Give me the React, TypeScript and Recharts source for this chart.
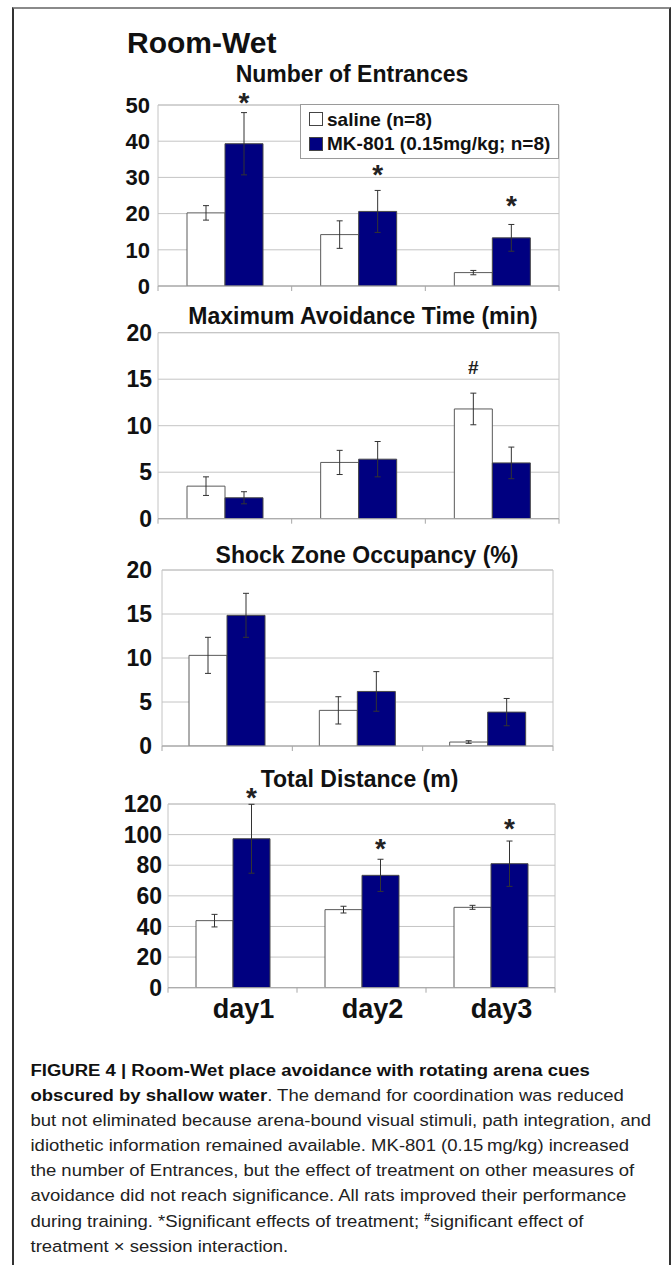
import React from 'react';
import {
  BarChart,
  Bar,
  XAxis,
  YAxis,
  CartesianGrid,
  ErrorBar,
  LabelList,
  ReferenceArea,
} from 'recharts';

// categories
const days = ['day1', 'day2', 'day3'];

// Number of Entrances
const entrancesSaline = [20.2, 14.2, 3.7];
const entrancesSalineErr = [2.0, 3.8, 0.6];
const entrancesMk = [39.3, 20.6, 13.3];
const entrancesMkErr = [8.6, 5.8, 3.7];
const entrancesMkStars = [52.2, 32.3, 23.8];
const entrancesTicks = [0, 10, 20, 30, 40, 50];

// Maximum Avoidance Time (min)
const avoidSaline = [3.5, 6.05, 11.8];
const avoidSalineErr = [1.0, 1.3, 1.7];
const avoidMk = [2.25, 6.4, 6.0];
const avoidMkErr = [0.65, 1.9, 1.7];
const avoidSalineHash = [null, null, 16.3];
const avoidTicks = [0, 5, 10, 15, 20];

// Shock Zone Occupancy (%)
const shockSaline = [10.3, 4.05, 0.45];
const shockSalineErr = [2.05, 1.55, 0.15];
const shockMk = [14.85, 6.2, 3.85];
const shockMkErr = [2.5, 2.25, 1.55];
const shockTicks = [0, 5, 10, 15, 20];

// Total Distance (m)
const distSaline = [43.8, 51.0, 52.5];
const distSalineErr = [4.1, 2.2, 1.3];
const distMk = [97.3, 73.4, 81.0];
const distMkErr = [22.5, 10.5, 14.8];
const distMkStars = [127.8, 94.6, 107.7];
const distTicks = [0, 20, 40, 60, 80, 100, 120];

const FONT = 'Liberation Sans, Arial, Helvetica, sans-serif';
const NAVY = '#000080';
const GRID = '#c4c4c4';
const AXIS = '#a8a8a8';
const INK = '#111';

type Row = {
  day: string;
  saline: number;
  salineErr: number;
  mk: number;
  mkErr: number;
  salineMark: number | null;
  mkMark: number | null;
};

const makeRows = (
  saline: number[],
  salineErr: number[],
  mk: number[],
  mkErr: number[],
  salineMark: (number | null)[] = [],
  mkMark: (number | null)[] = [],
): Row[] =>
  days.map((day, i) => ({
    day,
    saline: saline[i],
    salineErr: salineErr[i],
    mk: mk[i],
    mkErr: mkErr[i],
    salineMark: salineMark[i] ?? null,
    mkMark: mkMark[i] ?? null,
  }));

type PanelLayout = {
  title: string;
  titleX: number;
  titleY: number;
  rows: Row[];
  ticks: number[];
  top: number;
  height: number;
  plotLeft: number;
  plotRight: number;
  plotTop: number;
  plotBottom: number;
  tickFont: number;
  tickMargin: number;
  barSize: number;
  showDays: boolean;
};

const panels: PanelLayout[] = [
  {
    title: 'Number of Entrances',
    titleX: 352,
    titleY: 81.7,
    rows: makeRows(entrancesSaline, entrancesSalineErr, entrancesMk, entrancesMkErr, [], entrancesMkStars),
    ticks: entrancesTicks,
    top: 84,
    height: 216,
    plotLeft: 158,
    plotRight: 559,
    plotTop: 105,
    plotBottom: 286,
    tickFont: 22,
    tickMargin: 2,
    barSize: 38,
    showDays: false,
  },
  {
    title: 'Maximum Avoidance Time (min)',
    titleX: 363,
    titleY: 323.5,
    rows: makeRows(avoidSaline, avoidSalineErr, avoidMk, avoidMkErr, avoidSalineHash, []),
    ticks: avoidTicks,
    top: 316,
    height: 222,
    plotLeft: 158,
    plotRight: 559,
    plotTop: 332.7,
    plotBottom: 518.7,
    tickFont: 23,
    tickMargin: 0,
    barSize: 38,
    showDays: false,
  },
  {
    title: 'Shock Zone Occupancy (%)',
    titleX: 367,
    titleY: 562.5,
    rows: makeRows(shockSaline, shockSalineErr, shockMk, shockMkErr),
    ticks: shockTicks,
    top: 554,
    height: 222,
    plotLeft: 162,
    plotRight: 553,
    plotTop: 570,
    plotBottom: 746,
    tickFont: 23,
    tickMargin: 4,
    barSize: 38,
    showDays: false,
  },
  {
    title: 'Total Distance (m)',
    titleX: 359.5,
    titleY: 786.5,
    rows: makeRows(distSaline, distSalineErr, distMk, distMkErr, [], distMkStars),
    ticks: distTicks,
    top: 780,
    height: 250,
    plotLeft: 168,
    plotRight: 555,
    plotTop: 804,
    plotBottom: 987.7,
    tickFont: 23,
    tickMargin: 0,
    barSize: 37,
    showDays: true,
  },
];

const captionLines: { bold?: string; text?: string; sup?: string; after?: string }[] = [
  { bold: 'FIGURE 4 | Room-Wet place avoidance with rotating arena cues' },
  { bold: 'obscured by shallow water', text: '. The demand for coordination was reduced' },
  { text: 'but not eliminated because arena-bound visual stimuli, path integration, and' },
  { text: 'idiothetic information remained available. MK-801 (0.15\u2009mg/kg) increased' },
  { text: 'the number of Entrances, but the effect of treatment on other measures of' },
  { text: 'avoidance did not reach significance. All rats improved their performance' },
  { text: 'during training. *Significant effects of treatment; ', sup: '#', after: 'significant effect of' },
  { text: 'treatment \u00d7 session interaction.' },
];

// x-axis: Excel style ticks on category boundaries, optional day label
function DayTick(props: any) {
  const { x, y, payload, index, band, showLabel } = props;
  const left = x - band / 2;
  return (
    <g>
      <line x1={left} x2={left} y1={y} y2={y + 5} stroke={AXIS} />
      {index === days.length - 1 && (
        <line x1={x + band / 2} x2={x + band / 2} y1={y} y2={y + 5} stroke={AXIS} />
      )}
      {showLabel && (
        <text
          x={x + 11}
          y={y + 30.6}
          textAnchor="middle"
          fontFamily={FONT}
          fontWeight={700}
          fontSize={27}
          fill={INK}
        >
          {payload.value}
        </text>
      )}
    </g>
  );
}

// significance marks placed at a data value above the bar
const markContent =
  (rows: Row[], valueKey: 'saline' | 'mk', markKey: 'salineMark' | 'mkMark', glyph: string, size: number, lift: number) =>
  (props: any) => {
    const { x, y, width, height, index } = props;
    const row = rows[index];
    if (!row || row[markKey] == null) return null;
    const bx = Number(x);
    const by = Number(y);
    const bw = Number(width);
    const bh = Number(height);
    const base = by + bh;
    const cy = base - ((row[markKey] as number) / row[valueKey]) * bh;
    return (
      <text
        key={`m-${index}`}
        x={bx + bw / 2}
        y={cy + lift}
        textAnchor="middle"
        fontFamily={FONT}
        fontWeight={700}
        fontSize={size}
        fill="#222"
      >
        {glyph}
      </text>
    );
  };

function Panel({ p }: { p: PanelLayout }) {
  const band = (p.plotRight - p.plotLeft) / days.length;
  const plotH = p.plotBottom - p.plotTop;
  const marginTop = p.plotTop - p.top;
  const xAxisH = p.height - marginTop - plotH;
  const yMax = p.ticks[p.ticks.length - 1];

  return (
    <div style={{ position: 'absolute', left: 0, top: p.top }}>
      <BarChart
        width={671}
        height={p.height}
        data={p.rows}
        margin={{ top: marginTop, right: 671 - p.plotRight, bottom: 0, left: 0 }}
        barGap={0}
        barSize={p.barSize}
      >
        <CartesianGrid vertical={false} stroke={GRID} />
        <ReferenceArea y1={0} y2={yMax} fill="none" fillOpacity={0} stroke={GRID} />
        <XAxis
          dataKey="day"
          height={xAxisH}
          interval={0}
          tickLine={false}
          tickSize={0}
          tickMargin={0}
          axisLine={{ stroke: AXIS }}
          tick={(t: any) => <DayTick {...t} band={band} showLabel={p.showDays} />}
        />
        <YAxis
          width={p.plotLeft}
          domain={[0, yMax]}
          ticks={p.ticks}
          interval={0}
          allowDataOverflow
          axisLine={false}
          tickLine={false}
          tickSize={6}
          tickMargin={p.tickMargin}
          tick={{ fontSize: p.tickFont, fontWeight: 700, fill: INK, fontFamily: FONT }}
        />
        <Bar dataKey="saline" fill="#ffffff" stroke="#5a5a5a" strokeWidth={1} isAnimationActive={false}>
          <ErrorBar dataKey="salineErr" width={3} stroke="#333" strokeWidth={1} isAnimationActive={false} />
          <LabelList dataKey="salineMark" content={markContent(p.rows, 'saline', 'salineMark', '#', 19, 6.8)} />
        </Bar>
        <Bar dataKey="mk" fill={NAVY} stroke="#4a4a4a" strokeWidth={1} isAnimationActive={false}>
          <ErrorBar dataKey="mkErr" width={3} stroke="#333" strokeWidth={1} isAnimationActive={false} />
          <LabelList dataKey="mkMark" content={markContent(p.rows, 'mk', 'mkMark', '*', 28, 15.4)} />
        </Bar>
      </BarChart>
    </div>
  );
}

export default function App() {
  return (
    <div style={{ position: 'absolute', left: 0, top: 0, width: 671, height: 1265, background: '#fff', overflow: 'hidden' }}>
      {/* figure frame */}
      <div
        style={{
          position: 'absolute',
          left: 12,
          top: 7,
          width: 659,
          height: 1258,
          boxSizing: 'border-box',
          borderTop: '2px solid #8a8a8a',
          borderLeft: '2px solid #333',
          borderRight: '2px solid #333',
        }}
      />

      {panels.map((p) => (
        <Panel key={p.title} p={p} />
      ))}

      <svg
        width={671}
        height={1265}
        style={{ position: 'absolute', left: 0, top: 0, pointerEvents: 'none' }}
      >
        <text x={127} y={52.5} fontFamily={FONT} fontWeight={700} fontSize={30} fill={INK}>
          Room-Wet
        </text>
        {panels.map((p) => (
          <text
            key={p.title}
            x={p.titleX}
            y={p.titleY}
            textAnchor="middle"
            fontFamily={FONT}
            fontWeight={700}
            fontSize={23}
            fill={INK}
          >
            {p.title}
          </text>
        ))}

        {/* legend */}
        <g fontFamily={FONT} fontWeight={700} fontSize={19} fill={INK}>
          <rect x={300.5} y={104.5} width={258} height={54} fill="#fff" stroke="#9a9a9a" />
          <rect x={309.5} y={112.5} width={13} height={13} fill="#fff" stroke="#444" />
          <text x={327} y={125.5}>saline (n=8)</text>
          <rect x={309.5} y={137.5} width={13} height={13} fill={NAVY} stroke="#444" />
          <text x={327} y={150}>MK-801 (0.15mg/kg; n=8)</text>
        </g>

        {/* caption */}
        <g
          fontFamily={FONT}
          fontSize={17}
          fill="#222"
          transform="translate(30.5 0) scale(1.09 1) translate(-30.5 0)"
        >
          {captionLines.map((l, i) => (
            <text key={i} x={30.5} y={1076 + i * 25.1}>
              {l.bold && <tspan fontWeight={700} fill="#111">{l.bold}</tspan>}
              {l.text && <tspan>{l.text}</tspan>}
              {l.sup && (
                <tspan fontWeight={700} fontSize={10} dy={-6}>
                  {l.sup}
                </tspan>
              )}
              {l.after && <tspan dy={6}>{l.after}</tspan>}
            </text>
          ))}
        </g>
      </svg>
    </div>
  );
}
